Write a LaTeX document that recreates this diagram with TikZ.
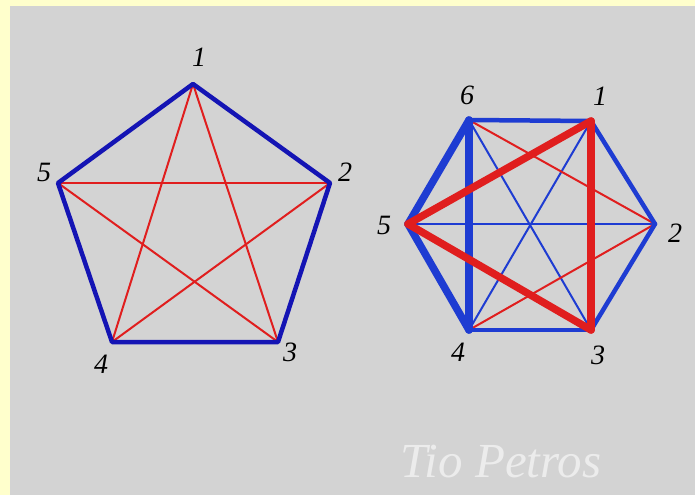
\documentclass[tikz,border=0pt]{standalone}
\usepackage{fontspec}
\setmainfont{Liberation Serif}
\usetikzlibrary{backgrounds}
\definecolor{frameYellow}{HTML}{FFFFCC}
\definecolor{panelGray}{HTML}{D3D3D3}
\definecolor{edgeBlue}{HTML}{1414B4}
\definecolor{hexBlue}{HTML}{1E3CD2}
\definecolor{edgeRed}{HTML}{E01E1E}
\definecolor{signGray}{HTML}{ECECEC}
\tikzset{
  vertex/.style={inner sep=0pt, minimum size=0pt},
  numlabel/.style={font=\fontsize{28}{30}\selectfont\itshape, text=black, inner sep=0pt},
  rim/.style={draw=edgeBlue, line width=4.5pt, line cap=round, line join=round},
  chord/.style={draw=edgeRed, line width=2pt, line cap=round},
  hexrim/.style={draw=hexBlue, line width=4.5pt, line cap=round},
  bluethin/.style={draw=hexBlue, line width=2pt, line cap=round},
  redthin/.style={draw=edgeRed, line width=2pt, line cap=round},
  bluebold/.style={draw=hexBlue, line width=7.5pt, line cap=round},
  redbold/.style={draw=edgeRed, line width=7.5pt, line cap=round},
  signature/.style={font=\fontsize{49}{52}\selectfont\itshape, text=signGray, inner sep=0pt}
}

\begin{document}
\begin{tikzpicture}[x=1pt,y=-1pt]

% ---------------------------------------------------------------------------
% Frame: yellow strip with the gray panel.
% ---------------------------------------------------------------------------
\fill[frameYellow] (0,0) rectangle (695,495);
\fill[panelGray] (10,6) rectangle (695,495);
\useasboundingbox (0,0) rectangle (695,495);

% ---------------------------------------------------------------------------
% Left: pentagon with its star.
% ---------------------------------------------------------------------------
\node[vertex] (p1) at (193,84) {};
\node[vertex] (p2) at (330,183) {};
\node[vertex] (p3) at (278,342) {};
\node[vertex] (p4) at (112,342) {};
\node[vertex] (p5) at (58,183) {};

\draw[chord] (p1.center) -- (p3.center);
\draw[chord] (p1.center) -- (p4.center);
\draw[chord] (p5.center) -- (p2.center);
\draw[chord] (p5.center) -- (p3.center);
\draw[chord] (p2.center) -- (p4.center);
\draw[rim] (p1.center) -- (p2.center) -- (p3.center) -- (p4.center) -- (p5.center) -- cycle;

\node[numlabel] (lp1) at (199,57) {1};
\node[numlabel] (lp2) at (345,172) {2};
\node[numlabel] (lp3) at (290,352) {3};
\node[numlabel] (lp4) at (101,364) {4};
\node[numlabel] (lp5) at (44,172) {5};

% ---------------------------------------------------------------------------
% Right: hexagon, every pair joined; one blue and one red triangle.
% ---------------------------------------------------------------------------
\node[vertex] (h1) at (591,121) {};
\node[vertex] (h2) at (655,224) {};
\node[vertex] (h3) at (591,330) {};
\node[vertex] (h4) at (469,330) {};
\node[vertex] (h5) at (408,224) {};
\node[vertex] (h6) at (469,120) {};

\draw[bluethin] (h5.center) -- (h2.center);
\draw[bluethin] (h6.center) -- (h3.center);
\draw[bluethin] (h1.center) -- (h4.center);
\draw[redthin] (h6.center) -- (h2.center);
\draw[redthin] (h4.center) -- (h2.center);
\draw[hexrim] (h6.center) -- (h1.center);
\draw[hexrim] (h1.center) -- (h2.center);
\draw[hexrim] (h2.center) -- (h3.center);
\draw[hexrim] (h3.center) -- (h4.center);
\draw[bluebold] (h4.center) -- (h5.center);
\draw[bluebold] (h5.center) -- (h6.center);
\draw[bluebold] (h6.center) -- (h4.center);
\draw[redbold] (h1.center) -- (h3.center);
\draw[redbold] (h5.center) -- (h1.center);
\draw[redbold] (h5.center) -- (h3.center);

\node[numlabel] (lh1) at (600,96) {1};
\node[numlabel] (lh2) at (675,233) {2};
\node[numlabel] (lh3) at (598,355) {3};
\node[numlabel] (lh4) at (458,352) {4};
\node[numlabel] (lh5) at (384,225) {5};
\node[numlabel] (lh6) at (467,95) {6};

\node[signature, anchor=west] (sign) at (400,462) {Tio Petros};

\end{tikzpicture}
\end{document}
